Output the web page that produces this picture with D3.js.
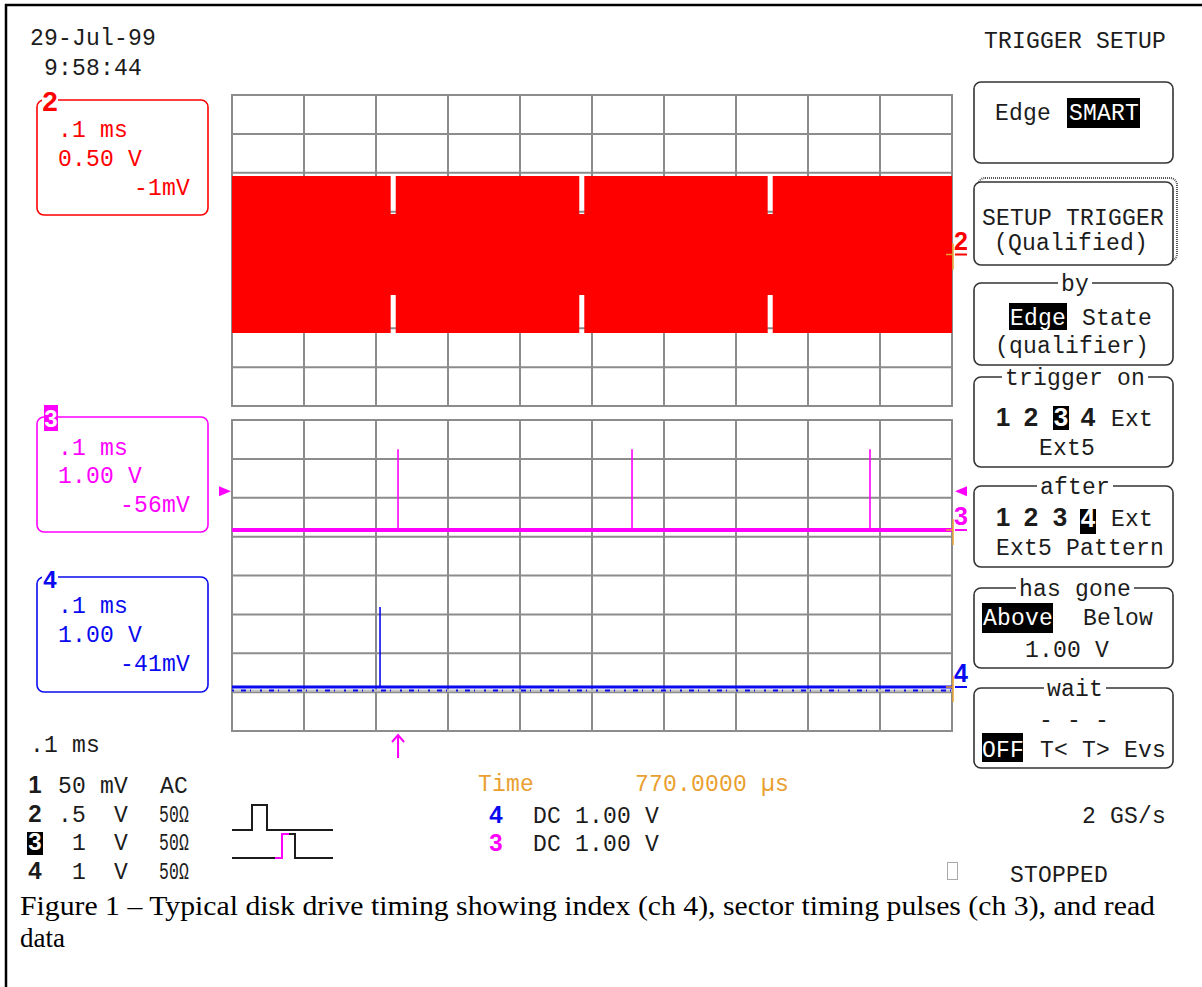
<!DOCTYPE html>
<html>
<head>
<meta charset="utf-8">
<script src="https://cdn.jsdelivr.net/npm/d3@7"></script>
<style>
body { margin: 0; background: #fff; }
svg { display: block; }
text { white-space: pre; }
</style>
</head>
<body>
<div id="scope"></div>
<script>
// values
var dateLines = ["29-Jul-99", "9:58:44"];
var channelNames = ["2", "3", "4"];
var channelTimebase = [".1 ms", ".1 ms", ".1 ms"];
var channelVolts = ["0.50 V", "1.00 V", "1.00 V"];
var channelOffset = ["-1mV", "-56mV", "-41mV"];

// ch2 read data envelope (ms, V)
var readGapTimes = [0.2239, 0.4858, 0.7475];
var readGapWidth = 0.007;
var readLevel = 1.01;
var readGapLevel = 0.52;
// ch3 sector pulses, ch4 index pulse (ms, V)
var sectorPulseTimes = [0.2306, 0.5556, 0.8861];
var sectorPulseHeight = 2.08;
var indexPulseTimes = [0.2056];
var indexPulseHeight = 2.06;
var triggerTime = 0.2306;
var triggerLevel = 1.0;

var timeTicks = [0, 0.1, 0.2, 0.3, 0.4, 0.5, 0.6, 0.7, 0.8, 0.9, 1.0];
var divTicks = [0, 1, 2, 3, 4, 5, 6, 7, 8];

var inputRows = [["1", "50", "mV", "AC"], ["2", ".5", "V", "50Ω"], ["3", "1", "V", "50Ω"], ["4", "1", "V", "50Ω"]];
var timebaseText = ".1 ms";
var cursorText = ["Time", "770.0000 µs"];
var trigRows = [["4", "DC 1.00 V"], ["3", "DC 1.00 V"]];
var sampleRate = "2 GS/s";
var runState = "STOPPED";

var menuHeader = "TRIGGER SETUP";
var menuTitles = [null, null, "by", "trigger on", "after", "has gone", "wait"];
var caption = ["Figure 1 – Typical disk drive timing showing index (ch 4), sector timing pulses (ch 3), and read", "data"];

var RED = "#ff0000", MAG = "#ff00ff", BLUE = "#0a0af0", ORANGE = "#e9a030", GRID = "#8c8c8c", INK = "#1c1c1c";
var MONO = "'Liberation Mono', 'DejaVu Sans Mono', monospace";
var BOLD = "'Liberation Sans', 'DejaVu Sans', sans-serif";

var svg = d3.select("#scope").append("svg").attr("width", 1202).attr("height", 987);

function txt(g, x, y, s, o) {
  o = o || {};
  var e = g.append("text").attr("x", x).attr("y", y).text(s)
    .attr("font-family", o.family || MONO)
    .attr("font-size", o.size || 23)
    .attr("fill", o.fill || INK)
    .attr("text-anchor", o.anchor || "start")
    .attr("font-weight", o.weight || "normal")
    .attr("letter-spacing", o.ls != null ? o.ls : 0.2);
  if (o.len) e.attr("textLength", o.len).attr("lengthAdjust", "spacingAndGlyphs");
  return e;
}
function inv(g, x, y, w, h, s, tx, ty, o) {
  g.append("rect").attr("x", x).attr("y", y).attr("width", w).attr("height", h).attr("fill", (o && o.bg) || "#000");
  o = Object.assign({fill: "#fff"}, o || {});
  return txt(g, tx, ty, s, o);
}
function rbox(g, x, y, w, h, color, sw) {
  return g.append("rect").attr("x", x).attr("y", y).attr("width", w).attr("height", h)
    .attr("rx", 7).attr("fill", "#fff").attr("stroke", color).attr("stroke-width", sw || 1.6);
}

// frame
svg.append("line").attr("x1", 6).attr("x2", 6).attr("y1", 4).attr("y2", 987).attr("stroke", "#000").attr("stroke-width", 2.5);
svg.append("line").attr("x1", 5).attr("x2", 1202).attr("y1", 5).attr("y2", 5).attr("stroke", "#000").attr("stroke-width", 2.5);

// scales
var x = d3.scaleLinear().domain([0, 1]).range([232, 952]);
var divPx = 38.875;
var y2 = d3.scaleLinear().domain([0, 0.5]).range([254.5, 254.5 - divPx]);
var y3 = d3.scaleLinear().domain([0, 1]).range([530, 530 - divPx]);
var y4 = d3.scaleLinear().domain([0, 1]).range([687, 687 - divPx]);

// grids
function grid(top) {
  var gy = d3.scaleLinear().domain([0, 8]).range([top, top + 8 * divPx]);
  var g = svg.append("g");
  g.selectAll("line.v").data(timeTicks).enter().append("line")
    .attr("x1", function(d) { return x(d); }).attr("x2", function(d) { return x(d); })
    .attr("y1", gy(0)).attr("y2", gy(8)).attr("stroke", GRID).attr("stroke-width", 2);
  g.selectAll("line.h").data(divTicks).enter().append("line")
    .attr("x1", x(0) - 1).attr("x2", x(1) + 1)
    .attr("y1", function(d) { return gy(d); }).attr("y2", function(d) { return gy(d); })
    .attr("stroke", GRID).attr("stroke-width", 2);
}
grid(95);
grid(420);

// ch2 read data envelope
var env = [{t: 0, a: readLevel}];
readGapTimes.forEach(function(gt) {
  env.push({t: gt - readGapWidth / 2, a: readGapLevel});
  env.push({t: gt + readGapWidth / 2, a: readLevel});
});
env.push({t: 1, a: readLevel});
svg.append("path").datum(env)
  .attr("d", d3.area().curve(d3.curveStepAfter)
    .x(function(d) { return x(d.t); })
    .y0(function(d) { return y2(-d.a); })
    .y1(function(d) { return y2(d.a); }))
  .attr("fill", RED);

// pulse traces
function pulses(times, h, ys, color, baseW, noise) {
  if (noise) {
    svg.append("line").attr("x1", x(0)).attr("x2", x(1)).attr("y1", ys(0) + 3.5).attr("y2", ys(0) + 3.5)
      .attr("stroke", "#c4c4c4").attr("stroke-width", 2);
    svg.append("line").attr("x1", x(0)).attr("x2", x(1)).attr("y1", ys(0) + 3.5).attr("y2", ys(0) + 3.5)
      .attr("stroke", color).attr("stroke-width", 2).attr("stroke-dasharray", "2,7,5,4,1,9");
  }
  svg.append("line").attr("x1", x(0)).attr("x2", x(1)).attr("y1", ys(0)).attr("y2", ys(0))
    .attr("stroke", color).attr("stroke-width", baseW);
  var pts = [];
  times.forEach(function(t) { pts.push([t, 0], [t, h], [t, 0]); });
  svg.append("path").datum(pts)
    .attr("d", d3.line().x(function(d) { return x(d[0]); }).y(function(d) { return ys(d[1]); }))
    .attr("fill", "none").attr("stroke", color).attr("stroke-width", 1.6);
}
pulses(sectorPulseTimes, sectorPulseHeight, y3, MAG, 4, false);
pulses(indexPulseTimes, indexPulseHeight, y4, BLUE, 3, true);

// right-edge ground markers
function marker(ys, name, color) {
  var gy = ys(0);
  svg.append("line").attr("x1", 953).attr("x2", 953).attr("y1", gy - 11).attr("y2", gy + 15).attr("stroke", ORANGE).attr("stroke-width", 1.5);
  svg.append("line").attr("x1", 946).attr("x2", 953).attr("y1", gy).attr("y2", gy).attr("stroke", ORANGE).attr("stroke-width", 1.5);
  svg.append("line").attr("x1", 955).attr("x2", 967).attr("y1", gy).attr("y2", gy).attr("stroke", color).attr("stroke-width", 2);
  txt(svg, 961, gy - 5, name, {family: BOLD, weight: "bold", size: 25, fill: color, anchor: "middle", ls: 0});
}
marker(y2, channelNames[0], RED);
marker(y3, channelNames[1], MAG);
marker(y4, channelNames[2], BLUE);

// trigger level and trigger time markers
var ty = y3(triggerLevel);
svg.append("path").attr("d", "M219," + (ty - 5) + "L231," + ty + "L219," + (ty + 5) + "Z").attr("fill", MAG);
svg.append("path").attr("d", "M967," + (ty - 5) + "L955," + ty + "L967," + (ty + 5) + "Z").attr("fill", MAG);
var tx = x(triggerTime);
svg.append("line").attr("x1", tx).attr("x2", tx).attr("y1", 735).attr("y2", 758).attr("stroke", MAG).attr("stroke-width", 2);
svg.append("path").attr("d", "M" + (tx - 6) + ",742L" + tx + ",735L" + (tx + 6) + ",742").attr("fill", "none").attr("stroke", MAG).attr("stroke-width", 2);

// date
txt(svg, 30, 45, dateLines[0]);
txt(svg, 44, 75, dateLines[1]);

// channel boxes on the left
var chColors = [RED, MAG, BLUE];
var chTops = [100, 417, 577];
var chBase = [[137, 166, 195], [455, 483, 512], [613, 642, 671]];
var chDigit = [28, 24, 24];
channelNames.forEach(function(c, i) {
  var col = chColors[i], top = chTops[i];
  rbox(svg, 37, top, 171, 115, col, 1.6);
  if (i === 1) {
    inv(svg, 44, top - 12, 14, 26, c, 51, top + 10, {bg: col, family: BOLD, weight: "bold", size: 24, anchor: "middle", ls: 0});
  } else {
    svg.append("rect").attr("x", 42).attr("y", top - 12).attr("width", 16).attr("height", 16).attr("fill", "#fff");
    txt(svg, 50, top + 11, c, {family: BOLD, weight: "bold", size: chDigit[i], fill: col, anchor: "middle", ls: 0});
  }
  txt(svg, 58, chBase[i][0], channelTimebase[i], {fill: col});
  txt(svg, 58, chBase[i][1], channelVolts[i], {fill: col});
  txt(svg, 190, chBase[i][2], channelOffset[i], {fill: col, anchor: "end"});
});

// bottom-left input list
txt(svg, 30, 752, timebaseText);
var rowY = [793, 822, 850, 879];
inputRows.forEach(function(r, i) {
  if (r[0] === "3") {
    inv(svg, 27, rowY[i] - 18, 16, 23, r[0], 35, rowY[i], {family: BOLD, weight: "bold", size: 24, anchor: "middle", ls: 0});
  } else {
    txt(svg, 35, rowY[i], r[0], {family: BOLD, weight: "bold", size: 24, anchor: "middle", ls: 0});
  }
  txt(svg, 86, rowY[i], r[1], {anchor: "end"});
  txt(svg, 128, rowY[i], r[2], {anchor: "end"});
  if (r[3] === "AC") txt(svg, 160, rowY[i], r[3]);
  else txt(svg, 159, rowY[i], r[3], {len: 30, size: 23});
});

// trigger pattern sketch
var sk = svg.append("g").attr("fill", "none").attr("stroke-width", 2);
sk.append("path").attr("d", "M232,830H252V805H267V830H333").attr("stroke", INK);
sk.append("path").attr("d", "M232,858H275").attr("stroke", INK);
sk.append("path").attr("d", "M275,858H282V834H289").attr("stroke", MAG);
sk.append("path").attr("d", "M289,834H295V858H333").attr("stroke", INK);

// cursor / trigger readout
txt(svg, 478, 791, cursorText[0], {fill: ORANGE});
txt(svg, 635, 791, cursorText[1], {fill: ORANGE});
var trColors = [BLUE, MAG];
trigRows.forEach(function(r, i) {
  var yy = 823 + i * 28;
  txt(svg, 496, yy, r[0], {family: BOLD, weight: "bold", size: 24, fill: trColors[i], anchor: "middle", ls: 0});
  txt(svg, 533, yy, r[1]);
});
svg.append("rect").attr("x", 947.5).attr("y", 862.5).attr("width", 10).attr("height", 17).attr("fill", "none").attr("stroke", "#aaa");
txt(svg, 1166, 823, sampleRate, {anchor: "end"});
txt(svg, 1010, 882, runState);

// trigger menu on the right
txt(svg, 984, 48, menuHeader);
var bx = 974, bw = 199;
var boxY = [[82, 163], [182, 265], [283, 365], [377, 467], [486, 567], [588, 668], [688, 768]];
// shadow behind box 2
svg.append("rect").attr("x", bx + 4).attr("y", boxY[1][0] - 4).attr("width", bw).attr("height", boxY[1][1] - boxY[1][0])
  .attr("rx", 7).attr("fill", "#fff").attr("stroke", "#555").attr("stroke-width", 2).attr("stroke-dasharray", "1,1");
boxY.forEach(function(b, i) {
  rbox(svg, bx, b[0], bw, b[1] - b[0], "#333", 1.6);
  if (menuTitles[i]) {
    var tt = txt(svg, 1075, b[0] + 8, menuTitles[i], {anchor: "middle"});
    var bb = tt.node().getBBox();
    svg.insert("rect", function() { return tt.node(); })
      .attr("x", bb.x - 3).attr("y", b[0] - 2).attr("width", bb.width + 6).attr("height", 5).attr("fill", "#fff");
  }
});
// box 1
txt(svg, 995, 120, "Edge");
inv(svg, 1067, 98, 73, 30, "SMART", 1069, 120);
// box 2
txt(svg, 982, 225, "SETUP TRIGGER");
txt(svg, 994, 250, "(Qualified)");
// box 3
inv(svg, 1009, 303, 58, 27, "Edge", 1010, 325);
txt(svg, 1082, 325, "State");
txt(svg, 995, 353, "(qualifier)");
// box 4
var dgt = {family: BOLD, weight: "bold", size: 26, anchor: "middle", ls: 0};
txt(svg, 1003, 426, "1", dgt);
txt(svg, 1031, 426, "2", dgt);
inv(svg, 1053, 406, 16, 24, "3", 1061, 426, dgt);
txt(svg, 1088, 426, "4", dgt);
txt(svg, 1111, 426, "Ext");
txt(svg, 1039, 455, "Ext5");
// box 5
txt(svg, 1003, 526, "1", dgt);
txt(svg, 1031, 526, "2", dgt);
txt(svg, 1060, 526, "3", dgt);
inv(svg, 1080, 509, 16, 25, "4", 1088, 527, dgt);
txt(svg, 1111, 526, "Ext");
txt(svg, 996, 555, "Ext5 Pattern");
// box 6
inv(svg, 982, 603, 71, 30, "Above", 983, 625);
txt(svg, 1083, 625, "Below");
txt(svg, 1025, 657, "1.00 V");
// box 7
txt(svg, 1039, 727, "- - -");
inv(svg, 982, 733, 41, 29, "OFF", 982, 757);
txt(svg, 1040, 757, "T< T> Evs");

// caption
var cap = {family: "'Liberation Serif', 'Times New Roman', serif", size: 27, fill: "#000", ls: 0};
txt(svg, 20, 915, caption[0], Object.assign({len: 1135}, cap));
txt(svg, 20, 947, caption[1], cap);
</script>
</body>
</html>
